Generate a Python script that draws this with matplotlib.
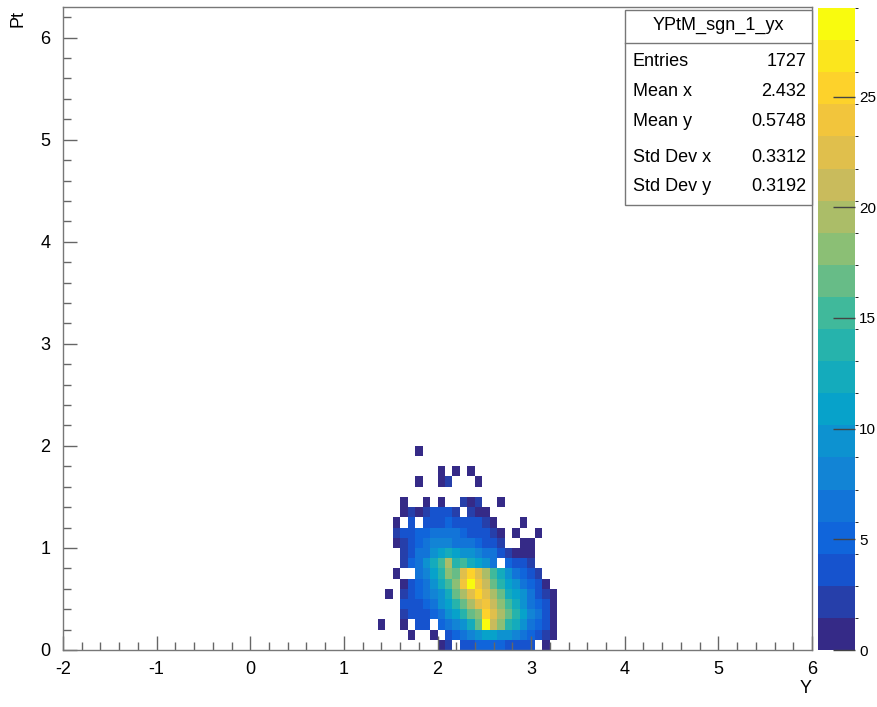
import numpy as np
import matplotlib
matplotlib.use("Agg")
import matplotlib.pyplot as plt
from matplotlib.colors import LinearSegmentedColormap, ListedColormap, BoundaryNorm
from matplotlib.ticker import MultipleLocator
from matplotlib.patches import Rectangle
from matplotlib.lines import Line2D

plt.rcParams['font.family'] = ['Liberation Sans', 'DejaVu Sans']
plt.rcParams['axes.unicode_minus'] = False

# histogram YPtM_sgn_1_yx: 100 bins in Y (-2..6), 63 bins in Pt (0..6.3)
x_lo, x_hi, nx = -2.0, 6.0, 100
y_lo, y_hi, ny = 0.0, 6.3, 63

# filled block: columns start at bin 42 (Y = 1.36), rows listed from Pt = 1.9 down to Pt = 0.0
first_col = 42
counts_top_down = [
    [0, 0, 0, 0, 0, 1, 0, 0, 0, 0, 0, 0, 0, 0, 0, 0, 0, 0, 0, 0, 0, 0, 0, 0],
    [0, 0, 0, 0, 0, 0, 0, 0, 0, 0, 0, 0, 0, 0, 0, 0, 0, 0, 0, 0, 0, 0, 0, 0],
    [0, 0, 0, 0, 0, 0, 0, 0, 1, 0, 1, 0, 1, 0, 0, 0, 0, 0, 0, 0, 0, 0, 0, 0],
    [0, 0, 0, 0, 0, 1, 0, 0, 1, 2, 0, 0, 0, 1, 0, 0, 0, 0, 0, 0, 0, 0, 0, 0],
    [0, 0, 0, 0, 0, 0, 0, 0, 0, 0, 0, 0, 0, 0, 0, 0, 0, 0, 0, 0, 0, 0, 0, 0],
    [0, 0, 0, 1, 0, 0, 1, 0, 1, 0, 0, 2, 1, 2, 0, 0, 1, 0, 0, 0, 0, 0, 0, 0],
    [0, 0, 0, 1, 2, 1, 2, 3, 3, 3, 2, 0, 2, 1, 1, 0, 0, 0, 0, 0, 0, 0, 0, 0],
    [0, 0, 1, 0, 3, 0, 3, 4, 4, 5, 4, 3, 3, 3, 2, 1, 0, 0, 0, 1, 0, 0, 0, 0],
    [0, 0, 2, 3, 4, 5, 5, 6, 7, 6, 6, 5, 4, 4, 3, 2, 1, 0, 1, 0, 0, 1, 0, 0],
    [0, 0, 1, 2, 4, 5, 7, 8, 8, 8, 7, 6, 6, 5, 4, 3, 2, 0, 0, 1, 1, 0, 0, 0],
    [0, 0, 0, 2, 4, 6, 7, 9, 11, 13, 11, 10, 9, 8, 7, 6, 4, 2, 1, 1, 1, 0, 0, 0],
    [0, 0, 0, 2, 5, 6, 9, 12, 15, 20, 14, 15, 13, 11, 10, 7, 0, 5, 3, 3, 2, 0, 0, 0],
    [0, 0, 1, 0, 0, 6, 8, 11, 14, 18, 17, 22, 26, 22, 19, 15, 12, 9, 7, 5, 3, 2, 0, 0],
    [0, 0, 0, 1, 4, 5, 7, 10, 12, 15, 18, 24, 29, 24, 21, 17, 14, 11, 9, 7, 5, 3, 1, 0],
    [0, 1, 0, 2, 4, 5, 6, 8, 10, 13, 16, 19, 23, 25, 22, 19, 16, 13, 11, 9, 6, 4, 2, 1],
    [0, 0, 0, 3, 4, 4, 5, 7, 9, 11, 14, 17, 19, 22, 24, 21, 18, 15, 12, 10, 7, 5, 3, 1],
    [0, 0, 0, 2, 3, 4, 4, 5, 7, 9, 11, 14, 16, 18, 25, 22, 19, 16, 14, 11, 8, 6, 4, 1],
    [1, 0, 0, 1, 0, 3, 3, 0, 5, 6, 8, 10, 13, 16, 28, 21, 18, 14, 12, 10, 7, 5, 3, 1],
    [0, 0, 0, 0, 1, 0, 0, 1, 0, 4, 5, 6, 8, 10, 11, 11, 10, 9, 8, 7, 5, 3, 2, 1],
    [0, 0, 0, 0, 0, 0, 0, 0, 1, 2, 0, 4, 4, 5, 5, 5, 5, 4, 4, 3, 3, 0, 1, 0],
]

stats_labels = ['Entries', 'Mean x', 'Mean y', 'Std Dev x', 'Std Dev y']
stats_values = ['1727', '2.432', '0.5748', '0.3312', '0.3192']
hist_name = 'YPtM_sgn_1_yx'

# ROOT kBird palette
bird_stops = [0.0, 0.125, 0.25, 0.375, 0.5, 0.625, 0.75, 0.875, 1.0]
bird_r = [0.2082, 0.0592, 0.0780, 0.0232, 0.1802, 0.5301, 0.8186, 0.9956, 0.9764]
bird_g = [0.1664, 0.3599, 0.5041, 0.6419, 0.7178, 0.7492, 0.7328, 0.7862, 0.9832]
bird_b = [0.5293, 0.8684, 0.8385, 0.7914, 0.6425, 0.4662, 0.3499, 0.1968, 0.0539]
bird = LinearSegmentedColormap.from_list(
    'bird', list(zip(bird_stops, zip(bird_r, bird_g, bird_b))))
n_levels = 20
cmap = ListedColormap([bird(i / (n_levels - 1)) for i in range(n_levels)])

counts = np.zeros((ny, nx))
block = np.array(counts_top_down)[::-1]
counts[:block.shape[0], first_col:first_col + block.shape[1]] = block
zmax = counts.max()
norm = BoundaryNorm(np.linspace(0, zmax, n_levels + 1), n_levels)

x_edges = np.linspace(x_lo, x_hi, nx + 1)
y_edges = np.linspace(y_lo, y_hi, ny + 1)

W, H = 877, 707
fig = plt.figure(figsize=(W / 100, H / 100), dpi=100)
ax = fig.add_axes([63 / W, 1 - 650 / H, (812 - 63) / W, (650 - 7) / H])
cax = fig.add_axes([818 / W, 1 - 650 / H, 37 / W, (650 - 8) / H])

mesh = ax.pcolormesh(x_edges, y_edges, np.ma.masked_equal(counts, 0),
                     cmap=cmap, norm=norm, edgecolors='none', antialiased=False)
ax.set_xlim(x_lo, x_hi)
ax.set_ylim(y_lo, y_hi)

ax.set_xticks(range(-2, 7))
ax.set_yticks(range(0, 7))
ax.xaxis.set_minor_locator(MultipleLocator(0.2))
ax.yaxis.set_minor_locator(MultipleLocator(0.2))
ax.tick_params(which='both', direction='in', color='#666666', width=1,
               top=False, right=False, labelsize=13)
ax.tick_params(which='major', length=10)
ax.tick_params(which='minor', length=6)
ax.tick_params(axis='x', pad=8)
ax.tick_params(axis='y', pad=9)
for s in ax.spines.values():
    s.set_color('#777777')
    s.set_linewidth(1)

cb = fig.colorbar(mesh, cax=cax, ticks=[0, 5, 10, 15, 20, 25])
cb.outline.set_visible(False)
cax.tick_params(direction='in', length=16, width=1, color='#444444',
                labelsize=11, pad=3)

fig.text(18 / W, 1 - 10 / H, 'Pt', rotation=90, ha='center', va='top', fontsize=13)
fig.text(812 / W, 1 - 680 / H, 'Y', ha='right', va='top', fontsize=13)

# stats box
bx0, bx1 = 625 / W, 812 / W
by_top, by_bot, by_sep = 1 - 10 / H, 1 - 205 / H, 1 - 43 / H
fig.patches.append(Rectangle((bx0, by_bot), bx1 - bx0, by_top - by_bot,
                             transform=fig.transFigure, facecolor='white',
                             edgecolor='#777777', linewidth=1, zorder=5))
fig.lines.append(Line2D([bx0, bx1], [by_sep, by_sep], transform=fig.transFigure,
                        color='#777777', linewidth=1, zorder=6))
fig.text((bx0 + bx1) / 2, 1 - 25 / H, hist_name, ha='center', va='center',
         fontsize=13, zorder=7)
row_y = [62, 92, 122, 157, 187]
for lab, val, yy in zip(stats_labels, stats_values, row_y):
    fig.text(633 / W, 1 - yy / H, lab, ha='left', va='center', fontsize=13, zorder=7)
    fig.text(806 / W, 1 - yy / H, val, ha='right', va='center', fontsize=13, zorder=7)

fig.savefig('out.png', dpi=100, facecolor='white')
